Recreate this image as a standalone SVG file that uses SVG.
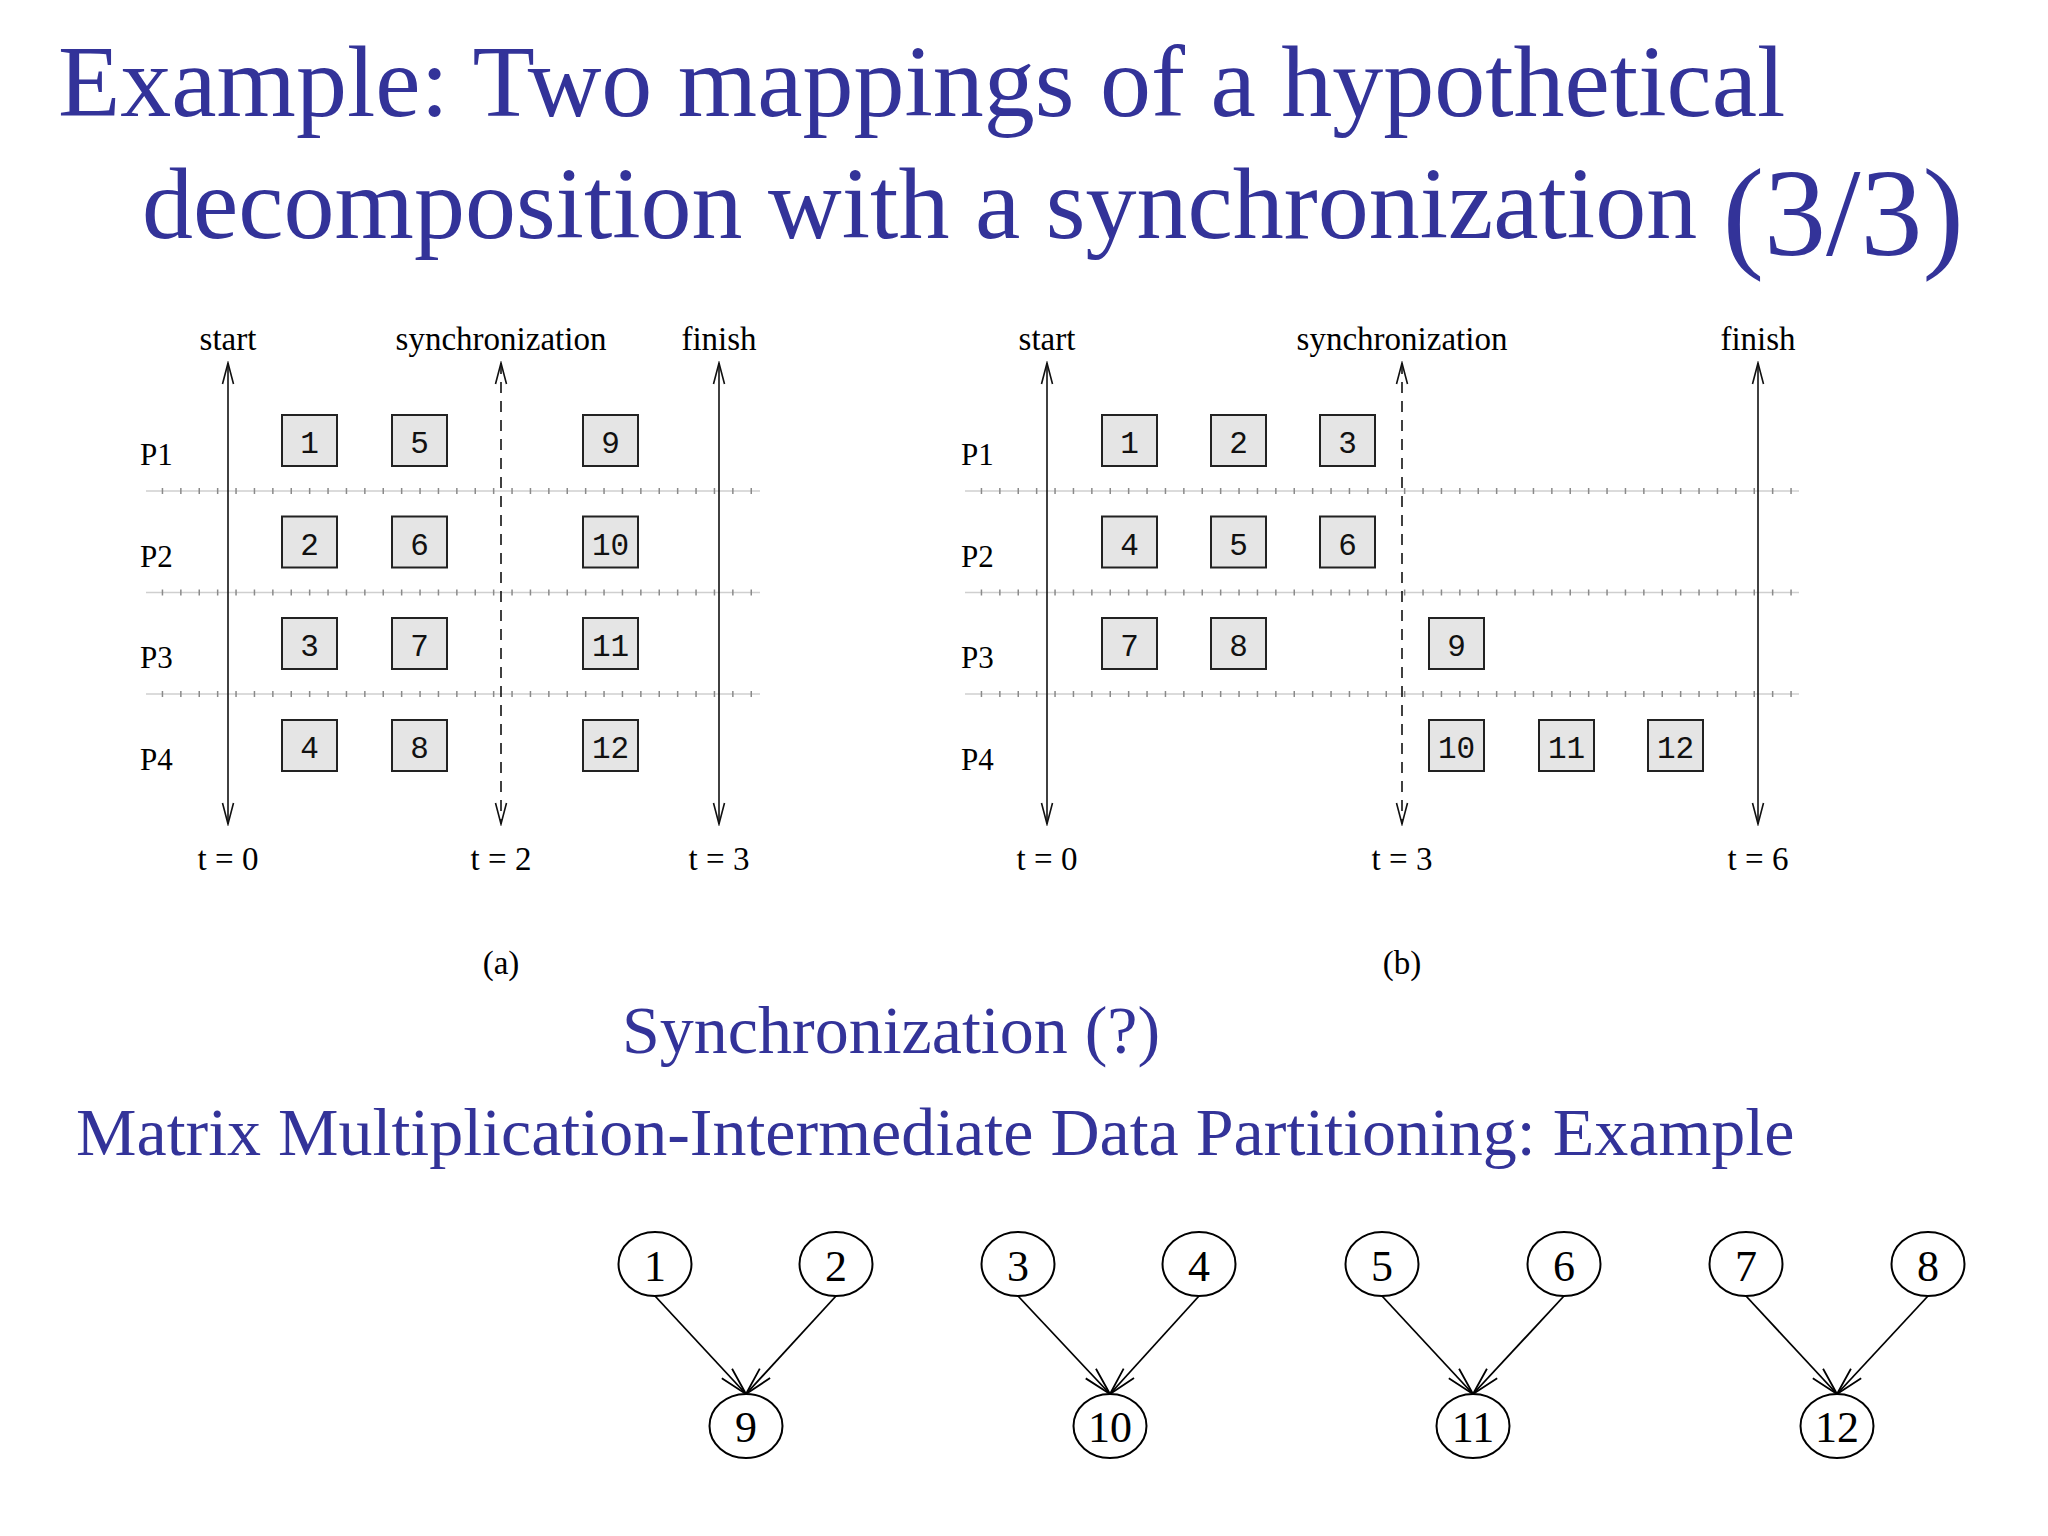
<svg xmlns="http://www.w3.org/2000/svg" width="2048" height="1536" viewBox="0 0 2048 1536">
<style>
.title{font-family:"Liberation Serif","Times New Roman",serif;fill:#333399}
.lbl{font-family:"Liberation Serif","Times New Roman",serif;fill:#000;font-size:33px;text-anchor:middle}
.plbl{font-family:"Liberation Serif","Times New Roman",serif;fill:#000;font-size:31px}
.box{fill:#e5e5e5;stroke:#222;stroke-width:2}
.bnum{font-family:"Liberation Mono","Courier New",monospace;font-size:31px;fill:#111;text-anchor:middle}
.axis{stroke:#111;stroke-width:1.6;fill:none;marker-start:url(#ah);marker-end:url(#ah)}
.dash{stroke-dasharray:11 8}
.sepl{stroke:#cfcfcf;stroke-width:1.5}
.sept{stroke:#8a8a8a;stroke-width:6;stroke-dasharray:1.5 16.9;stroke-dashoffset:2.7}
.node{fill:#fff;stroke:#000;stroke-width:2}
.ntxt{font-family:"Liberation Serif","Times New Roman",serif;font-size:44px;fill:#000;text-anchor:middle}
.edge{stroke:#000;stroke-width:1.8;fill:none;marker-end:url(#va)}
</style>
<defs>
<marker id="ah" viewBox="-22 -7 24 14" refX="0" refY="0" markerWidth="24" markerHeight="14" markerUnits="userSpaceOnUse" orient="auto-start-reverse">
<path d="M-21,-5.5 L0,0 L-21,5.5" fill="none" stroke="#111" stroke-width="1.6"/>
</marker>
<marker id="va" viewBox="-30 -9 32 18" refX="0" refY="0" markerWidth="32" markerHeight="18" markerUnits="userSpaceOnUse" orient="auto">
<path d="M-28,-7 L0,0 L-28,7" fill="none" stroke="#000" stroke-width="1.8"/>
</marker>
</defs>
<rect width="2048" height="1536" fill="#fff"/>

<g id="title">
<text class="title" x="58" y="116" font-size="102">Example: Two mappings of a hypothetical</text>
<text class="title" x="142" y="238" font-size="102">decomposition with a synchronization <tspan font-size="124" dy="17">(3/3)</tspan></text>
</g>

<!-- Diagram (a) -->
<g id="diagram-a">
<g id="a-separators">
<line class="sepl" x1="146" y1="491" x2="760" y2="491"/>
<line class="sept" x1="146" y1="491" x2="760" y2="491"/>
<line class="sepl" x1="146" y1="592.5" x2="760" y2="592.5"/>
<line class="sept" x1="146" y1="592.5" x2="760" y2="592.5"/>
<line class="sepl" x1="146" y1="694" x2="760" y2="694"/>
<line class="sept" x1="146" y1="694" x2="760" y2="694"/>
</g>
<g id="a-axes">
<line class="axis" x1="228" y1="363" x2="228" y2="824"/>
<line class="axis dash" x1="501" y1="363" x2="501" y2="824"/>
<line class="axis" x1="719" y1="363" x2="719" y2="824"/>
</g>
<text class="lbl" x="228" y="350">start</text>
<text class="lbl" x="501" y="350">synchronization</text>
<text class="lbl" x="719" y="350">finish</text>
<text class="lbl" x="228" y="870">t = 0</text>
<text class="lbl" x="501" y="870">t = 2</text>
<text class="lbl" x="719" y="870">t = 3</text>
<text class="plbl" x="140" y="465">P1</text>
<text class="plbl" x="140" y="567">P2</text>
<text class="plbl" x="140" y="668">P3</text>
<text class="plbl" x="140" y="770">P4</text>
<g id="a-t1"><rect class="box" x="282" y="415" width="55" height="51"/><text class="bnum" x="309.5" y="453">1</text></g>
<g id="a-t5"><rect class="box" x="392" y="415" width="55" height="51"/><text class="bnum" x="419.5" y="453">5</text></g>
<g id="a-t9"><rect class="box" x="583" y="415" width="55" height="51"/><text class="bnum" x="610.5" y="453">9</text></g>
<g id="a-t2"><rect class="box" x="282" y="516.5" width="55" height="51"/><text class="bnum" x="309.5" y="554.5">2</text></g>
<g id="a-t6"><rect class="box" x="392" y="516.5" width="55" height="51"/><text class="bnum" x="419.5" y="554.5">6</text></g>
<g id="a-t10"><rect class="box" x="583" y="516.5" width="55" height="51"/><text class="bnum" x="610.5" y="554.5">10</text></g>
<g id="a-t3"><rect class="box" x="282" y="618" width="55" height="51"/><text class="bnum" x="309.5" y="656">3</text></g>
<g id="a-t7"><rect class="box" x="392" y="618" width="55" height="51"/><text class="bnum" x="419.5" y="656">7</text></g>
<g id="a-t11"><rect class="box" x="583" y="618" width="55" height="51"/><text class="bnum" x="610.5" y="656">11</text></g>
<g id="a-t4"><rect class="box" x="282" y="720" width="55" height="51"/><text class="bnum" x="309.5" y="758">4</text></g>
<g id="a-t8"><rect class="box" x="392" y="720" width="55" height="51"/><text class="bnum" x="419.5" y="758">8</text></g>
<g id="a-t12"><rect class="box" x="583" y="720" width="55" height="51"/><text class="bnum" x="610.5" y="758">12</text></g>
<text class="lbl" x="501" y="974">(a)</text>
</g>

<!-- Diagram (b) -->
<g id="diagram-b">
<g id="b-separators">
<line class="sepl" x1="965" y1="491" x2="1799" y2="491"/>
<line class="sept" x1="965" y1="491" x2="1799" y2="491"/>
<line class="sepl" x1="965" y1="592.5" x2="1799" y2="592.5"/>
<line class="sept" x1="965" y1="592.5" x2="1799" y2="592.5"/>
<line class="sepl" x1="965" y1="694" x2="1799" y2="694"/>
<line class="sept" x1="965" y1="694" x2="1799" y2="694"/>
</g>
<g id="b-axes">
<line class="axis" x1="1047" y1="363" x2="1047" y2="824"/>
<line class="axis dash" x1="1402" y1="363" x2="1402" y2="824"/>
<line class="axis" x1="1758" y1="363" x2="1758" y2="824"/>
</g>
<text class="lbl" x="1047" y="350">start</text>
<text class="lbl" x="1402" y="350">synchronization</text>
<text class="lbl" x="1758" y="350">finish</text>
<text class="lbl" x="1047" y="870">t = 0</text>
<text class="lbl" x="1402" y="870">t = 3</text>
<text class="lbl" x="1758" y="870">t = 6</text>
<text class="plbl" x="961" y="465">P1</text>
<text class="plbl" x="961" y="567">P2</text>
<text class="plbl" x="961" y="668">P3</text>
<text class="plbl" x="961" y="770">P4</text>
<g id="b-t1"><rect class="box" x="1102" y="415" width="55" height="51"/><text class="bnum" x="1129.5" y="453">1</text></g>
<g id="b-t2"><rect class="box" x="1211" y="415" width="55" height="51"/><text class="bnum" x="1238.5" y="453">2</text></g>
<g id="b-t3"><rect class="box" x="1320" y="415" width="55" height="51"/><text class="bnum" x="1347.5" y="453">3</text></g>
<g id="b-t4"><rect class="box" x="1102" y="516.5" width="55" height="51"/><text class="bnum" x="1129.5" y="554.5">4</text></g>
<g id="b-t5"><rect class="box" x="1211" y="516.5" width="55" height="51"/><text class="bnum" x="1238.5" y="554.5">5</text></g>
<g id="b-t6"><rect class="box" x="1320" y="516.5" width="55" height="51"/><text class="bnum" x="1347.5" y="554.5">6</text></g>
<g id="b-t7"><rect class="box" x="1102" y="618" width="55" height="51"/><text class="bnum" x="1129.5" y="656">7</text></g>
<g id="b-t8"><rect class="box" x="1211" y="618" width="55" height="51"/><text class="bnum" x="1238.5" y="656">8</text></g>
<g id="b-t9"><rect class="box" x="1429" y="618" width="55" height="51"/><text class="bnum" x="1456.5" y="656">9</text></g>
<g id="b-t10"><rect class="box" x="1429" y="720" width="55" height="51"/><text class="bnum" x="1456.5" y="758">10</text></g>
<g id="b-t11"><rect class="box" x="1539" y="720" width="55" height="51"/><text class="bnum" x="1566.5" y="758">11</text></g>
<g id="b-t12"><rect class="box" x="1648" y="720" width="55" height="51"/><text class="bnum" x="1675.5" y="758">12</text></g>
<text class="lbl" x="1402" y="974">(b)</text>
</g>

<g id="subtitles">
<text class="title" x="622" y="1053" font-size="68">Synchronization (?)</text>
<text class="title" x="76" y="1155" font-size="68">Matrix Multiplication-Intermediate Data Partitioning: Example</text>
</g>

<!-- Task graph -->
<g id="connectors">
<line class="edge" x1="655" y1="1296" x2="746" y2="1394"/>
<line class="edge" x1="836" y1="1296" x2="746" y2="1394"/>
<line class="edge" x1="1018" y1="1296" x2="1110" y2="1394"/>
<line class="edge" x1="1199" y1="1296" x2="1110" y2="1394"/>
<line class="edge" x1="1382" y1="1296" x2="1473" y2="1394"/>
<line class="edge" x1="1564" y1="1296" x2="1473" y2="1394"/>
<line class="edge" x1="1746" y1="1296" x2="1837" y2="1394"/>
<line class="edge" x1="1928" y1="1296" x2="1837" y2="1394"/>
</g>
<g id="n1"><ellipse class="node" cx="655" cy="1264" rx="36.5" ry="32"/><text class="ntxt" x="655" y="1281">1</text></g>
<g id="n2"><ellipse class="node" cx="836" cy="1264" rx="36.5" ry="32"/><text class="ntxt" x="836" y="1281">2</text></g>
<g id="n3"><ellipse class="node" cx="1018" cy="1264" rx="36.5" ry="32"/><text class="ntxt" x="1018" y="1281">3</text></g>
<g id="n4"><ellipse class="node" cx="1199" cy="1264" rx="36.5" ry="32"/><text class="ntxt" x="1199" y="1281">4</text></g>
<g id="n5"><ellipse class="node" cx="1382" cy="1264" rx="36.5" ry="32"/><text class="ntxt" x="1382" y="1281">5</text></g>
<g id="n6"><ellipse class="node" cx="1564" cy="1264" rx="36.5" ry="32"/><text class="ntxt" x="1564" y="1281">6</text></g>
<g id="n7"><ellipse class="node" cx="1746" cy="1264" rx="36.5" ry="32"/><text class="ntxt" x="1746" y="1281">7</text></g>
<g id="n8"><ellipse class="node" cx="1928" cy="1264" rx="36.5" ry="32"/><text class="ntxt" x="1928" y="1281">8</text></g>
<g id="n9"><ellipse class="node" cx="746" cy="1426" rx="36.5" ry="32"/><text class="ntxt" x="746" y="1442">9</text></g>
<g id="n10"><ellipse class="node" cx="1110" cy="1426" rx="36.5" ry="32"/><text class="ntxt" x="1110" y="1442">10</text></g>
<g id="n11"><ellipse class="node" cx="1473" cy="1426" rx="36.5" ry="32"/><text class="ntxt" x="1473" y="1442">11</text></g>
<g id="n12"><ellipse class="node" cx="1837" cy="1426" rx="36.5" ry="32"/><text class="ntxt" x="1837" y="1442">12</text></g>
</svg>
